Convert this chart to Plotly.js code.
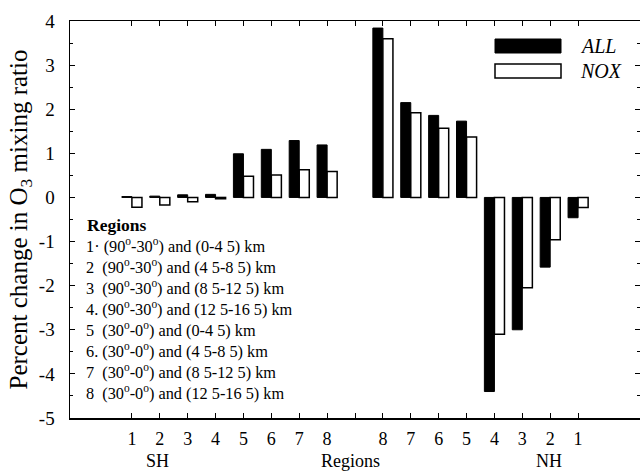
<!DOCTYPE html>
<html>
<head>
<meta charset="utf-8">
<script src="https://cdn.plot.ly/plotly-3.0.1.min.js"></script>
<style>html,body{margin:0;padding:0;background:#fff;}#chart{width:640px;height:472px;}</style>
</head>
<body>
<div id="chart"></div>
<script>
// Categories (SH regions 1-8, an empty slot, NH regions 8-1)
var categories = ['SH1','SH2','SH3','SH4','SH5','SH6','SH7','SH8','gap','NH8','NH7','NH6','NH5','NH4','NH3','NH2','NH1'];
var tickLabels = ['1','2','3','4','5','6','7','8','','8','7','6','5','4','3','2','1'];
var barCategories = ['SH1','SH2','SH3','SH4','SH5','SH6','SH7','SH8','NH8','NH7','NH6','NH5','NH4','NH3','NH2','NH1'];
var allValues = [0.02, 0.03, 0.06, 0.07, 0.99, 1.09, 1.29, 1.19, 3.84, 2.15, 1.86, 1.73, -4.4, -3.0, -1.58, -0.46];
var noxValues = [-0.22, -0.17, -0.1, -0.03, 0.48, 0.51, 0.63, 0.59, 3.6, 1.92, 1.57, 1.37, -3.1, -2.05, -0.96, -0.23];
var yTickValues = [-5, -4, -3, -2, -1, 0, 1, 2, 3, 4];
var yTickLabels = ['-5', '-4', '-3', '-2', '-1', '0', '1', '2', '3', '4'];
var seriesNames = ['ALL', 'NOX'];
var regionTitle = 'Regions';
var regionLines = [
  '1\u00b7 (90<sup>o</sup>-30<sup>o</sup>) and (0-4 5) km',
  '2  (90<sup>o</sup>-30<sup>o</sup>) and (4 5-8 5) km',
  '3  (90<sup>o</sup>-30<sup>o</sup>) and (8 5-12 5) km',
  '4. (90<sup>o</sup>-30<sup>o</sup>) and (12 5-16 5) km',
  '5  (30<sup>o</sup>-0<sup>o</sup>) and (0-4 5) km',
  '6. (30<sup>o</sup>-0<sup>o</sup>) and (4 5-8 5) km',
  '7  (30<sup>o</sup>-0<sup>o</sup>) and (8 5-12 5) km',
  '8  (30<sup>o</sup>-0<sup>o</sup>) and (12 5-16 5) km'
];
var groupLabels = ['SH', 'Regions', 'NH'];

var FONT = 'Liberation Serif, Times New Roman, serif';

var traces = [
  {type:'bar', name:seriesNames[0], x:barCategories, y:allValues,
   marker:{color:'#000', line:{color:'#000', width:1}}, showlegend:false},
  {type:'bar', name:seriesNames[1], x:barCategories, y:noxValues,
   marker:{color:'#fff', line:{color:'#000', width:1.5}}, showlegend:false}
];

var annotations = [];
annotations.push({xref:'paper', yref:'paper', x:0.026, y:(418-225)/397, xanchor:'left', yanchor:'middle',
  text:'<b>'+regionTitle+'</b>', showarrow:false, font:{family:FONT, size:17.5, color:'#000'}});
regionLines.forEach(function(t, i){
  var py = 245 + i*21.1;
  annotations.push({xref:'paper', yref:'paper', x:0.024, y:(418-py)/397, xanchor:'left', yanchor:'middle',
    text:t, showarrow:false, font:{family:FONT, size:16.3, color:'#000'}});
});
// group labels below axis
var groupX = [157, 350, 549];
groupLabels.forEach(function(t, i){
  annotations.push({xref:'paper', yref:'paper', x:(groupX[i]-70)/570, y:(418-472)/397, xanchor:'center', yanchor:'bottom',
    text:t, showarrow:false, borderpad:0, font:{family:FONT, size:18, color:'#000'}});
});
// legend text
annotations.push({xref:'paper', yref:'paper', x:(578-70)/570, y:(418-46)/397, xanchor:'left', yanchor:'middle',
  text:'<i>'+seriesNames[0]+'</i>', showarrow:false, font:{family:FONT, size:20, color:'#000'}});
annotations.push({xref:'paper', yref:'paper', x:(578-70)/570, y:(418-71)/397, xanchor:'left', yanchor:'middle',
  text:'<i>'+seriesNames[1]+'</i>', showarrow:false, font:{family:FONT, size:20, color:'#000'}});

var shapes = [
  {type:'rect', xref:'paper', yref:'paper', x0:(495-70)/570, x1:(561-70)/570, y0:(418-53)/397, y1:(418-39)/397,
   fillcolor:'#000', line:{color:'#000', width:1}},
  {type:'rect', xref:'paper', yref:'paper', x0:(495-70)/570, x1:(561-70)/570, y0:(418-78)/397, y1:(418-64)/397,
   fillcolor:'#fff', line:{color:'#000', width:1.5}}
];

var layout = {
  width:640, height:472,
  margin:{l:70, r:0, t:21, b:54, pad:0},
  paper_bgcolor:'#fff', plot_bgcolor:'#fff',
  barmode:'group', bargap:0.28, bargroupgap:0,
  showlegend:false,
  font:{family:FONT, color:'#000'},
  xaxis:{
    type:'category', categoryorder:'array', categoryarray:categories,
    range:[-2.22, 18.22],
    tickmode:'array', tickvals:categories, ticktext:tickLabels,
    ticks:'inside', ticklen:5, tickwidth:1, tickcolor:'#000',
    showline:true, linecolor:'#000', linewidth:1.5, mirror:'ticks',
    showgrid:false, zeroline:false,
    tickfont:{family:FONT, size:18, color:'#000'},
    ticklabelstandoff:4
  },
  yaxis:{
    range:[-5, 4],
    tickmode:'array', tickvals:yTickValues, ticktext:yTickLabels,
    ticks:'inside', ticklen:5, tickwidth:1, tickcolor:'#000',
    minor:{ticks:'inside', dtick:0.5, tick0:0, ticklen:3, tickcolor:'#000', showgrid:false},
    showline:true, linecolor:'#000', linewidth:1.5, mirror:'ticks',
    showgrid:false, zeroline:false,
    tickfont:{family:FONT, size:19, color:'#000'},
    ticklabelstandoff:10,
    title:{text:'Percent change in O<sub>3</sub> mixing ratio', font:{family:FONT, size:25, color:'#000'}, standoff:4}
  },
  annotations:annotations,
  shapes:shapes
};

Plotly.newPlot('chart', traces, layout, {displayModeBar:false, staticPlot:true});
</script>
</body>
</html>
